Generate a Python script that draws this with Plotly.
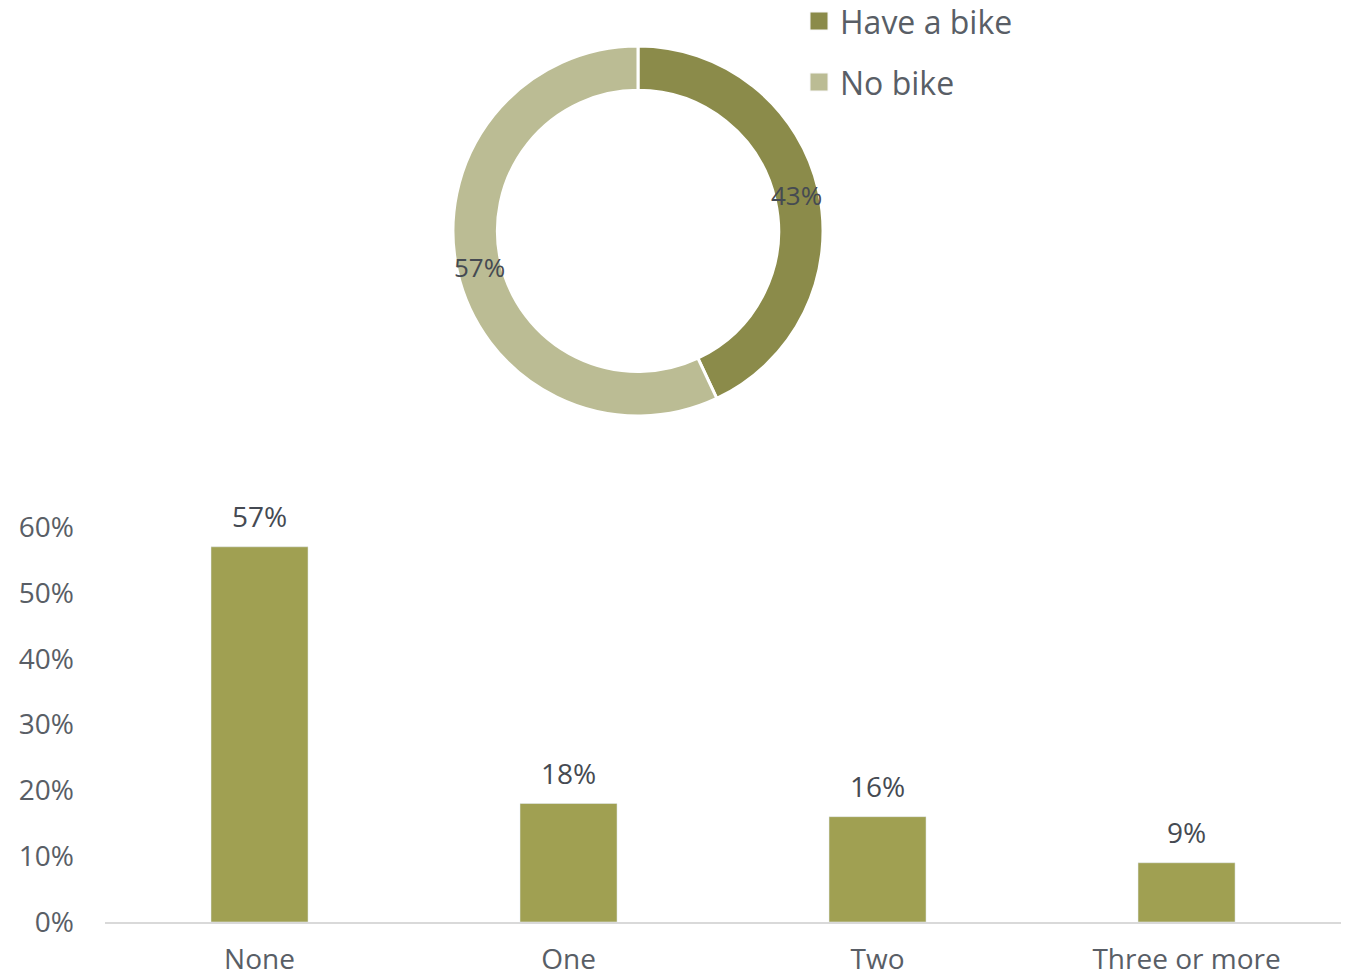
import math
import plotly.graph_objects as go

# Share of households with / without a bike
own_labels = ["Have a bike", "No bike"]
own_values = [0.43, 0.57]
own_colors = ["#8B8B4A", "#BBBC94"]

# Number of bikes in the household
count_labels = ["None", "One", "Two", "Three or more"]
count_values = [0.57, 0.18, 0.16, 0.09]
bar_color = "#A0A052"

y_ticks = [0, 0.1, 0.2, 0.3, 0.4, 0.5, 0.6]

W, H = 1355, 980
FONT = "Open Sans"
TXT = "#595E66"
DARK = "#454A52"

pie_dom_x = [0.3343, 0.6074]
pie_dom_y = [0.5755, 0.9531]
hole = 0.76

fig = go.Figure()

fig.add_trace(go.Pie(
    labels=own_labels,
    values=own_values,
    hole=hole,
    sort=False,
    direction="clockwise",
    rotation=0,
    marker=dict(colors=own_colors, line=dict(color="white", width=3)),
    textinfo="none",
    hoverinfo="label+percent",
    domain=dict(x=pie_dom_x, y=pie_dom_y),
    showlegend=False,
))

fig.add_trace(go.Bar(
    x=count_labels,
    y=count_values,
    marker=dict(color=bar_color),
    width=0.314,
    hovertemplate="%{x}: %{y:.0%}<extra></extra>",
    showlegend=False,
    xaxis="x", yaxis="y",
))

# Value labels above the bars
for lab, v in zip(count_labels, count_values):
    fig.add_annotation(
        x=lab, y=v, xref="x", yref="y",
        text=f"{v:.0%}", showarrow=False,
        yanchor="bottom", yshift=10,
        font=dict(family=FONT, size=28, color=DARK),
    )

# Percentage labels placed on the middle of each donut ring segment
cx = (pie_dom_x[0] + pie_dom_x[1]) / 2
cy = (pie_dom_y[0] + pie_dom_y[1]) / 2
r_out_px = min((pie_dom_x[1] - pie_dom_x[0]) * W, (pie_dom_y[1] - pie_dom_y[0]) * H) / 2
r_mid_px = r_out_px * (1 + hole) / 2
total = sum(own_values)
cum = 0.0
for v in own_values:
    mid = (cum + v / 2) / total * 2 * math.pi
    cum += v
    ax = cx + r_mid_px * math.sin(mid) / W
    ay = cy + r_mid_px * math.cos(mid) / H
    fig.add_annotation(
        x=ax, y=ay, xref="paper", yref="paper",
        text=f"{v:.0%}", showarrow=False,
        font=dict(family=FONT, size=26, color=DARK),
        xanchor="center", yanchor="middle",
    )

# Legend for the donut: colour squares with labels
leg_x = 810 / W
leg_sq = 18
leg_rows = [21, 82]
for lab, col, yc in zip(own_labels, own_colors, leg_rows):
    fig.add_shape(
        type="rect", xref="paper", yref="paper",
        x0=leg_x, x1=leg_x + leg_sq / W,
        y0=1 - (yc + leg_sq / 2) / H, y1=1 - (yc - leg_sq / 2) / H,
        fillcolor=col, line=dict(color="#F7F7F7", width=1),
    )
    fig.add_annotation(
        x=leg_x + (leg_sq + 10) / W, y=1 - yc / H, xref="paper", yref="paper",
        text=lab, showarrow=False, xanchor="left", yanchor="middle",
        font=dict(family=FONT, size=32, color=TXT),
    )

fig.update_layout(
    width=W, height=H,
    margin=dict(l=0, r=0, t=0, b=0),
    paper_bgcolor="white",
    plot_bgcolor="white",
    font=dict(family=FONT, color=TXT),
    showlegend=False,
    xaxis=dict(
        domain=[0.0775, 0.9897],
        showline=True, linecolor="#D9D9D9", linewidth=2,
        showgrid=False, ticks="",
        tickfont=dict(family=FONT, size=28, color=TXT),
        ticklabelstandoff=11,
        automargin=False,
        fixedrange=True,
    ),
    yaxis=dict(
        domain=[0.0592, 0.4622],
        range=[0, 0.6],
        tickvals=y_ticks,
        tickformat=".0%",
        showgrid=False, zeroline=False, showline=False,
        tickfont=dict(family=FONT, size=28, color=TXT),
        ticks="",
        ticklabelstandoff=30,
        automargin=False,
        fixedrange=True,
    ),
)

fig.write_html("out.html")
